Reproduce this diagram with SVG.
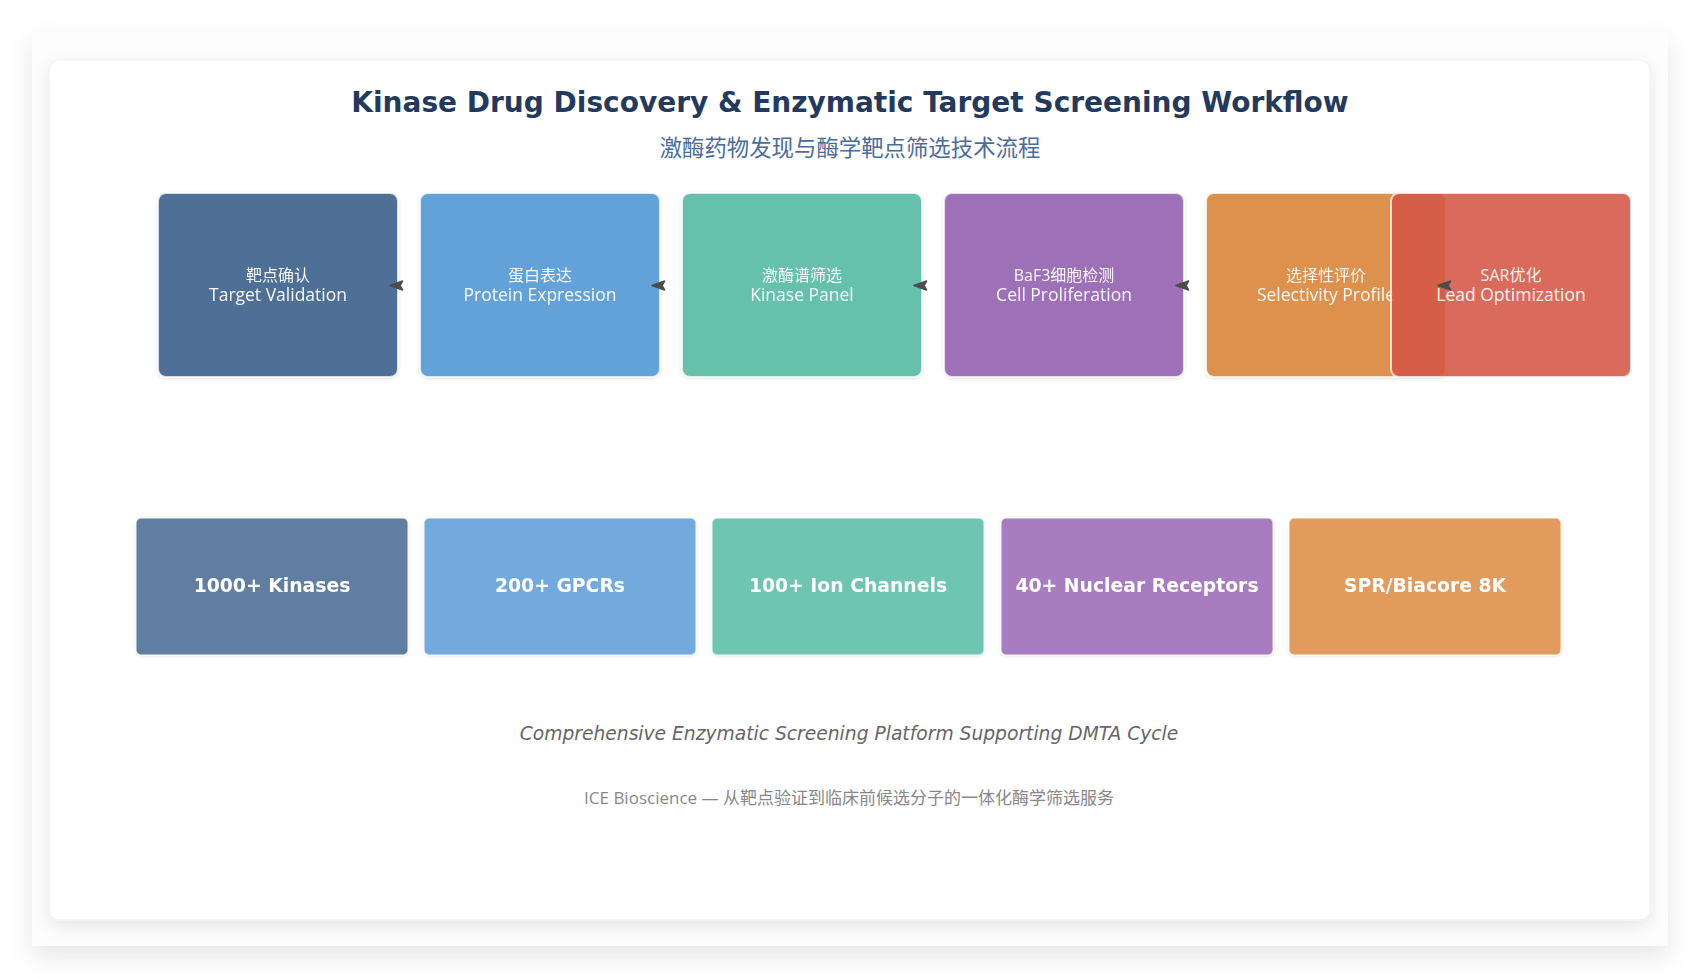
<svg xmlns="http://www.w3.org/2000/svg" xmlns:xlink="http://www.w3.org/1999/xlink" width="1700" height="978" viewBox="0 0 1700 978">
  <defs>
    <filter id="outerShadow" x="-5%" y="-5%" width="110%" height="115%">
      <feDropShadow dx="0" dy="10" stdDeviation="12" flood-color="#000" flood-opacity="0.10"/>
    </filter>
    <filter id="cardShadow" x="-5%" y="-5%" width="110%" height="115%">
      <feDropShadow dx="0" dy="6" stdDeviation="8" flood-color="#000" flood-opacity="0.09"/>
    </filter>
    <filter id="boxShadow" x="-10%" y="-10%" width="120%" height="125%">
      <feDropShadow dx="0" dy="1" stdDeviation="1.5" flood-color="#000" flood-opacity="0.12"/>
    </filter>
    <path id="arrowhead" d="M -8 0 L 4.5 -4.5 L 2 0 L 4.5 4.5 Z"/>
    <style>
      .title { font-family: "DejaVu Sans", "Liberation Sans", sans-serif; font-weight: bold; font-size: 28px; fill: #233a5e; }
      .subtitle { font-family: "DejaVu Sans", "Noto Sans CJK SC", sans-serif; font-size: 22.4px; fill: #4a6c9b; }
      .step rect { stroke: #ffffff; stroke-opacity: 0.75; stroke-width: 2; }
      .step text { font-family: "Open Sans", "Noto Sans CJK SC", sans-serif; fill: #ffffff; fill-opacity: 0.95; text-anchor: middle; }
      .step .zh { font-size: 16px; }
      .step .en { font-size: 17.5px; }
      .stat rect { stroke: #ffffff; stroke-opacity: 0.6; stroke-width: 1.5; }
      .stat text { font-family: "DejaVu Sans", "Liberation Sans", sans-serif; font-weight: bold; font-size: 18.8px; fill: #ffffff; text-anchor: middle; }
      .arrow { fill: #4d4d4d; stroke: #4d4d4d; stroke-width: 1.6; stroke-linejoin: round; }
      .note { font-family: "DejaVu Sans", "Liberation Sans", sans-serif; font-style: italic; font-size: 18.7px; fill: #666666; text-anchor: middle; }
      .credit { font-family: "Open Sans", "Noto Sans CJK SC", sans-serif; font-size: 17px; fill: #888888; text-anchor: middle; }
    </style>
  </defs>

  <rect x="0" y="0" width="1700" height="978" fill="#ffffff"/>
  <rect x="32" y="32" width="1636" height="914" fill="#fdfdfd" filter="url(#outerShadow)"/>
  <rect x="49" y="60" width="1601" height="860" rx="10" fill="#ffffff" stroke="#f0f0f0" stroke-width="1" filter="url(#cardShadow)"/>

  <text class="title" x="850" y="112" text-anchor="middle">Kinase Drug Discovery &amp; Enzymatic Target Screening Workflow</text>
  <text class="subtitle" x="850" y="156" text-anchor="middle">激酶药物发现与酶学靶点筛选技术流程</text>

  <g id="step-target-validation" class="step" filter="url(#boxShadow)">
    <rect x="158" y="193" width="240" height="184" rx="8" fill="#4f7096"/>
    <text class="zh" x="278" y="281">靶点确认</text>
    <text class="en" x="278" y="301">Target Validation</text>
  </g>
  <g id="step-protein-expression" class="step" filter="url(#boxShadow)">
    <rect x="420" y="193" width="240" height="184" rx="8" fill="#64a2d8"/>
    <text class="zh" x="540" y="281">蛋白表达</text>
    <text class="en" x="540" y="301">Protein Expression</text>
  </g>
  <g id="step-kinase-panel" class="step" filter="url(#boxShadow)">
    <rect x="682" y="193" width="240" height="184" rx="8" fill="#65c1ab"/>
    <text class="zh" x="802" y="281">激酶谱筛选</text>
    <text class="en" x="802" y="301">Kinase Panel</text>
  </g>
  <g id="step-cell-proliferation" class="step" filter="url(#boxShadow)">
    <rect x="944" y="193" width="240" height="184" rx="8" fill="#9e70b8"/>
    <text class="zh" x="1064" y="281">BaF3细胞检测</text>
    <text class="en" x="1064" y="301">Cell Proliferation</text>
  </g>
  <g id="step-selectivity-profile" class="step" filter="url(#boxShadow)">
    <rect x="1206" y="193" width="240" height="184" rx="8" fill="#dd914d"/>
    <text class="zh" x="1326" y="281">选择性评价</text>
    <text class="en" x="1326" y="301">Selectivity Profile</text>
  </g>
  <g id="step-lead-optimization" class="step">
    <rect x="1391" y="193" width="240" height="184" rx="8" fill="#d55646" fill-opacity="0.88"/>
    <text class="zh" x="1511" y="281">SAR优化</text>
    <text class="en" x="1511" y="301">Lead Optimization</text>
  </g>

  <g id="connectors" class="arrow">
    <use xlink:href="#arrowhead" x="398" y="285.5"/>
    <use xlink:href="#arrowhead" x="660" y="285.5"/>
    <use xlink:href="#arrowhead" x="922" y="285.5"/>
    <use xlink:href="#arrowhead" x="1184" y="285.5"/>
    <use xlink:href="#arrowhead" x="1446" y="285.5"/>
  </g>

  <g id="stat-kinases" class="stat" filter="url(#boxShadow)">
    <rect x="136" y="518" width="272" height="137" rx="5" fill="#617ea1"/>
    <text x="272" y="592">1000+ Kinases</text>
  </g>
  <g id="stat-gpcrs" class="stat" filter="url(#boxShadow)">
    <rect x="424" y="518" width="272" height="137" rx="5" fill="#72aadd"/>
    <text x="560" y="592">200+ GPCRs</text>
  </g>
  <g id="stat-ion-channels" class="stat" filter="url(#boxShadow)">
    <rect x="712" y="518" width="272" height="137" rx="5" fill="#6ec6b0"/>
    <text x="848" y="592">100+ Ion Channels</text>
  </g>
  <g id="stat-nuclear-receptors" class="stat" filter="url(#boxShadow)">
    <rect x="1001" y="518" width="272" height="137" rx="5" fill="#a87cc0"/>
    <text x="1137" y="592">40+ Nuclear Receptors</text>
  </g>
  <g id="stat-spr" class="stat" filter="url(#boxShadow)">
    <rect x="1289" y="518" width="272" height="137" rx="5" fill="#e09b5d"/>
    <text x="1425" y="592">SPR/Biacore 8K</text>
  </g>

  <text class="note" x="849" y="740">Comprehensive Enzymatic Screening Platform Supporting DMTA Cycle</text>
  <text class="credit" x="849" y="804">ICE Bioscience — 从靶点验证到临床前候选分子的一体化酶学筛选服务</text>
</svg>
